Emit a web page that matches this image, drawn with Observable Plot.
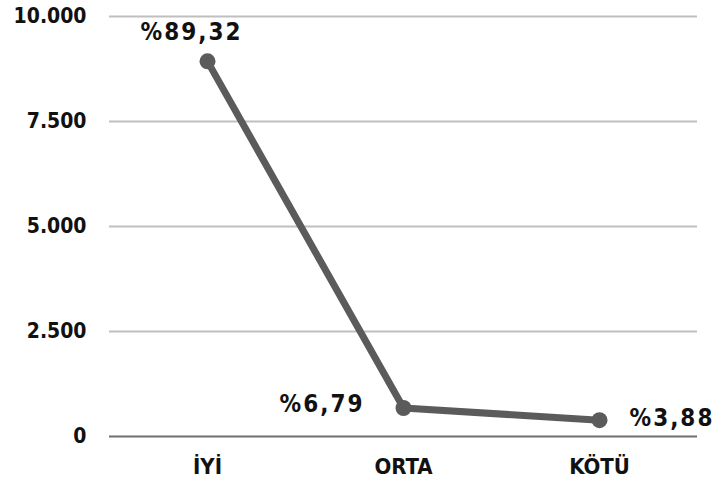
<!DOCTYPE html>
<html><head><meta charset="utf-8">
<script src="https://cdn.jsdelivr.net/npm/d3@7"></script>
<script src="https://cdn.jsdelivr.net/npm/@observablehq/plot@0.6"></script>
<style>body{margin:0;background:#fff} svg text{font-stretch:condensed}</style>
</head><body><div id="chart"></div>
<script>
const categories = ["İYİ", "ORTA", "KÖTÜ"];
const values = [8932, 679, 388];
const labels = ["%89,32", "%6,79", "%3,88"];
const yTicks = [0, 2500, 5000, 7500, 10000];

const data = categories.map((c, i) => ({cat: c, v: values[i], label: labels[i]}));
const loc = d3.formatLocale({decimal: ",", thousands: ".", grouping: [3], currency: ["", ""]});
const fmt = loc.format(",");
const font = "'DejaVu Sans', sans-serif";

const chart = Plot.plot({
  width: 717, height: 488,
  marginLeft: 109, marginRight: 20, marginTop: 16, marginBottom: 52,
  style: {fontFamily: font, fontWeight: "bold", fontSize: "21px", color: "#111", background: "#fff"},
  x: {type: "band", domain: categories, padding: 0, label: null, tickSize: 0, tickPadding: 22},
  y: {domain: [0, 10000], ticks: yTicks, tickFormat: fmt, label: null, tickSize: 0, tickPadding: 23},
  marks: [
    Plot.ruleY(yTicks.filter(d => d > 0), {stroke: "#bfbfbf", strokeWidth: 2}),
    Plot.ruleY([0], {stroke: "#6e6e6e", strokeWidth: 2}),
    Plot.line(data, {x: "cat", y: "v", stroke: "#5b5b5b", strokeWidth: 7}),
    Plot.dot(data, {x: "cat", y: "v", r: 8, fill: "#5b5b5b"}),
    Plot.text(data.filter((d, i) => i === 0), {x: "cat", y: "v", text: "label", dx: -16, dy: -29, fontSize: 24, fontFamily: font, fontWeight: "bold", fill: "#111"}),
    Plot.text(data.filter((d, i) => i === 1), {x: "cat", y: "v", text: "label", dx: -39, dy: -4, textAnchor: "end", fontSize: 24, fontFamily: font, fontWeight: "bold", fill: "#111"}),
    Plot.text(data.filter((d, i) => i === 2), {x: "cat", y: "v", text: "label", dx: 30, dy: -2, textAnchor: "start", fontSize: 24, fontFamily: font, fontWeight: "bold", fill: "#111"})
  ]
});
chart.querySelectorAll("g[aria-label='text'] text").forEach(t => { t.style.letterSpacing = "2px"; });
chart.querySelectorAll("g[aria-label='x-axis tick label'] text").forEach(t => { t.style.fontSize = "22px"; });
document.getElementById("chart").appendChild(chart);
</script>
</body></html>
